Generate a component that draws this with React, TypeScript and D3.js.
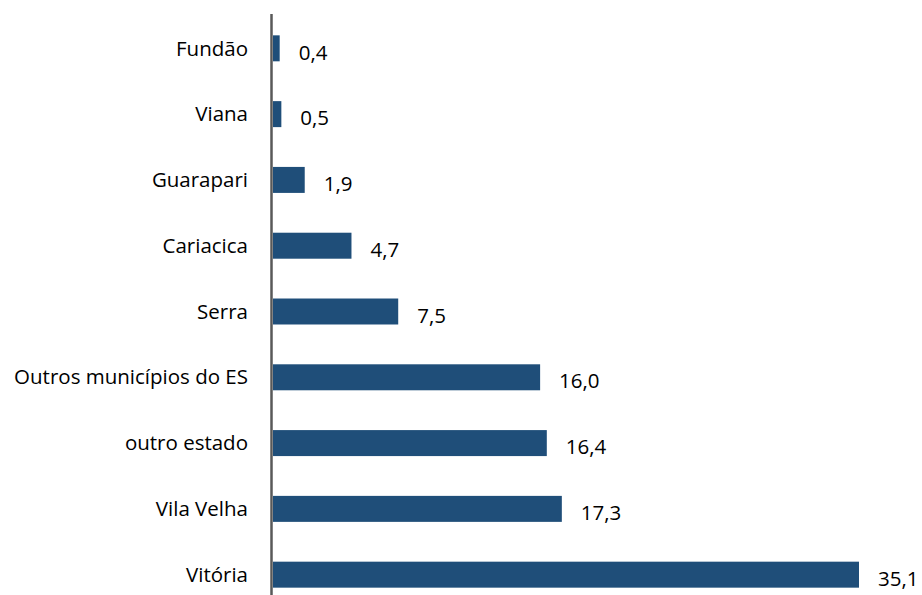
import React from "react";
import * as d3 from "d3";

const categories = [
  "Fundão",
  "Viana",
  "Guarapari",
  "Cariacica",
  "Serra",
  "Outros municípios do ES",
  "outro estado",
  "Vila Velha",
  "Vitória",
];
const values = [0.4, 0.5, 1.9, 4.7, 7.5, 16.0, 16.4, 17.3, 35.1];

const W = 922;
const H = 595;
const FONT = "'Open Sans', sans-serif";

export default function App() {
  const x = d3.scaleLinear().domain([0, 35.1]).range([273, 859]);
  const y = d3
    .scaleBand<string>()
    .domain(categories)
    .range([15.6, 607.4])
    .paddingInner(0.605)
    .paddingOuter(0.3);
  const fmt = (v: number) => v.toFixed(1).replace(".", ",");
  const data = categories.map((c, i) => ({ c, v: values[i] }));
  return (
    <div style={{ position: "absolute", left: 0, top: 0 }}>
      <svg width={W} height={H} style={{ display: "block", background: "#fff" }}>
        {data.map((d) => (
          <rect
            key={d.c}
            x={x(0)}
            y={y(d.c)!}
            width={x(d.v) - x(0)}
            height={y.bandwidth()}
            fill="#1F4E79"
          />
        ))}
        {data.map((d) => (
          <text
            key={"c" + d.c}
            x={248}
            y={y(d.c)! + y.bandwidth() / 2}
            dy="0.35em"
            textAnchor="end"
            fontFamily={FONT}
            fontSize={20.5}
            fill="#000"
          >
            {d.c}
          </text>
        ))}
        {data.map((d) => (
          <text
            key={"v" + d.c}
            x={x(d.v) + 19}
            y={y(d.c)! + y.bandwidth() / 2 + 4}
            dy="0.35em"
            textAnchor="start"
            fontFamily={FONT}
            fontSize={20.5}
            fill="#000"
          >
            {fmt(d.v)}
          </text>
        ))}
        <line x1={271.5} x2={271.5} y1={14} y2={H} stroke="#595959" strokeWidth={2.5} />
      </svg>
    </div>
  );
}
